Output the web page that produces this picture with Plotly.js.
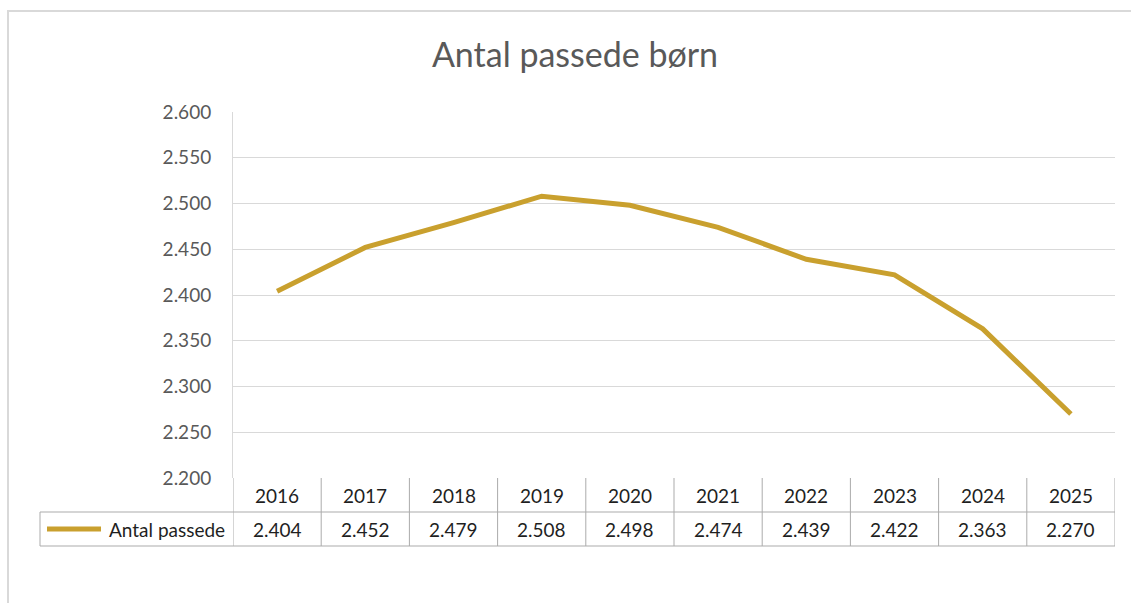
<!DOCTYPE html>
<html>
<head>
<meta charset="utf-8">
<script src="https://cdn.plot.ly/plotly-3.0.1.min.js"></script>
<style>
  html, body { margin: 0; padding: 0; background: #fff; }
  #frame { position: absolute; left: 7px; top: 10px; width: 1200px; height: 700px;
           border-top: 2px solid #d9d9d9; border-left: 2px solid #d9d9d9; box-sizing: border-box; }
  #chart { position: absolute; left: 0; top: 0; width: 1131px; height: 603px; }
</style>
</head>
<body>
<div id="frame"></div>
<div id="chart"></div>
<script>
const title = "Antal passede børn";
const seriesName = "Antal passede";
const years = ["2016","2017","2018","2019","2020","2021","2022","2023","2024","2025"];
const values = [2404, 2452, 2479, 2508, 2498, 2474, 2439, 2422, 2363, 2270];
const yTicks = [2200, 2250, 2300, 2350, 2400, 2450, 2500, 2550, 2600];

const FONT = "Lato, 'Open Sans', sans-serif";
const LINE = "#C9A02E";
const TABLE = "#ababab";

function fmt(v) { return String(v).replace(/\B(?=(\d{3})+(?!\d))/g, "."); }

const W = 1131, H = 603, L = 233, R = 16, T = 112, B = 125;
const plotW = W - L - R, plotH = H - T - B;
const pyRow1 = -(34 / plotH), pyRow2 = -(68 / plotH);
const pxLeft = (40 - L) / plotW;

const xIdx = years.map((_, i) => i);

const shapes = [];
shapes.push({type:"line", xref:"x", yref:"paper", x0:-0.5, x1:years.length-0.5, y0:pyRow1, y1:pyRow1, line:{color:TABLE, width:1}});
shapes.push({type:"line", xref:"paper", yref:"paper", x0:pxLeft, x1:0, y0:pyRow1, y1:pyRow1, line:{color:TABLE, width:1}});
shapes.push({type:"line", xref:"paper", yref:"paper", x0:pxLeft, x1:0, y0:pyRow2, y1:pyRow2, line:{color:TABLE, width:1}});
shapes.push({type:"line", xref:"x", yref:"paper", x0:-0.5, x1:years.length-0.5, y0:pyRow2, y1:pyRow2, line:{color:TABLE, width:1}});
shapes.push({type:"line", xref:"paper", yref:"paper", x0:pxLeft, x1:pxLeft, y0:pyRow1, y1:pyRow2, line:{color:TABLE, width:1}});
shapes.push({type:"line", xref:"x", yref:"paper", x0:-0.5, x1:-0.5, y0:0, y1:pyRow2, line:{color:TABLE, width:1}});
for (let i = 1; i <= years.length; i++) {
  shapes.push({type:"line", xref:"x", yref:"paper", x0:i-0.5, x1:i-0.5, y0:0, y1:pyRow2, line:{color:TABLE, width:1}});
}
shapes.push({type:"line", xref:"paper", yref:"paper",
  x0:(47 - L)/plotW, x1:(101 - L)/plotW, y0:-(51/plotH), y1:-(51/plotH),
  line:{color:LINE, width:5}});

const TF = {family:FONT, size:19, color:"#1f1f1f"};
const annotations = [];
years.forEach((yr, i) => {
  annotations.push({xref:"x", yref:"paper", x:i, y:-(17/plotH), text:yr, showarrow:false,
    font:TF, xanchor:"center", yanchor:"middle"});
  annotations.push({xref:"x", yref:"paper", x:i, y:-(51/plotH), text:fmt(values[i]), showarrow:false,
    font:TF, xanchor:"center", yanchor:"middle"});
});
annotations.push({xref:"paper", yref:"paper", x:(227 - L)/plotW, y:-(51/plotH), text:seriesName, showarrow:false,
  font:TF, xanchor:"right", yanchor:"middle"});

const trace = {
  x: xIdx, y: values, type: "scatter", mode: "lines", name: seriesName,
  line: {color: LINE, width: 5, shape: "linear"}, hoverinfo: "skip"
};

const layout = {
  width: W, height: H,
  paper_bgcolor: "rgba(0,0,0,0)", plot_bgcolor: "rgba(0,0,0,0)",
  margin: {l: L, r: R, t: T, b: B, pad: 0},
  separators: ",.",
  showlegend: false,
  title: {text: title, x: 575 / W, xref: "container", xanchor: "center", y: 1 - 55 / H, yanchor: "middle",
          font: {family: FONT, size: 34, color: "#595959"}},
  xaxis: {range: [-0.5, years.length - 0.5], showticklabels: false, showgrid: false, zeroline: false,
          ticks: "", fixedrange: true},
  yaxis: {range: [2200, 2600], tickvals: yTicks, tickformat: ",.0f", showgrid: true, gridcolor: "#d9d9d9", gridwidth: 1,
          zeroline: false, showline: true, linecolor: "#d9d9d9", linewidth: 1, ticks: "", ticklabelstandoff: 17,
          tickfont: {family: FONT, size: 19, color: "#595959"}, fixedrange: true},
  shapes: shapes,
  annotations: annotations
};

Plotly.newPlot("chart", [trace], layout, {displayModeBar: false, staticPlot: true});
</script>
</body>
</html>
